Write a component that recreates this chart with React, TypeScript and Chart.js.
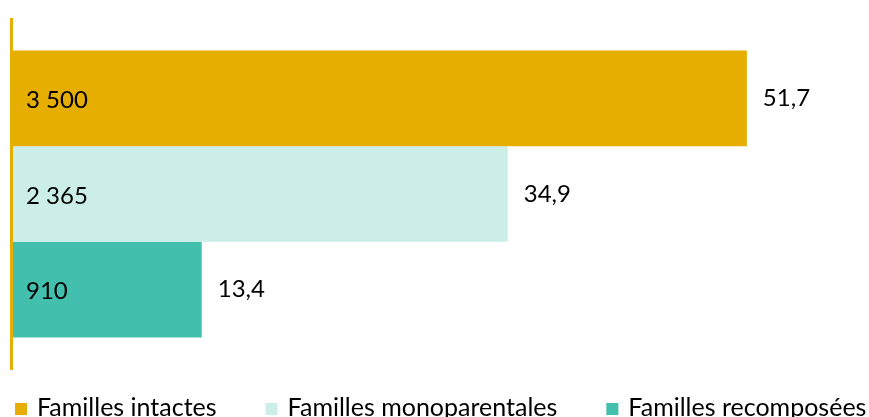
import React, { useEffect, useRef } from "react";
import { Chart, registerables } from "chart.js";

Chart.register(...registerables);

const categories = ["Familles intactes", "Familles monoparentales", "Familles recomposées"];
const percentages = [51.7, 34.9, 13.4];
const counts = [3500, 2365, 910];
const colors = ["#E6AE00", "#CBEEE8", "#43BFAE"];
const axisMax = 60;

const FONT = "Lato, 'Open Sans', sans-serif";
const FONT_SIZE = 24;
const LEGEND_FONT_SIZE = 25;

function fmtCount(n: number): string {
  return String(n).replace(/\B(?=(\d{3})+(?!\d))/g, " ");
}
function fmtPct(v: number): string {
  return v.toFixed(1).replace(".", ",");
}

const labelPlugin = {
  id: "barLabels",
  afterDatasetsDraw(chart: any) {
    const ctx = chart.ctx;
    ctx.save();
    ctx.font = `${FONT_SIZE}px ${FONT}`;
    ctx.fillStyle = "#000";
    ctx.textBaseline = "middle";
    ctx.textAlign = "left";
    chart.data.datasets.forEach((_ds: any, i: number) => {
      const bar = chart.getDatasetMeta(i).data[0];
      const { x, y, base } = bar.getProps(["x", "y", "base"], true);
      ctx.fillText(fmtCount(counts[i]), base + 15, y + 2);
      ctx.fillText(fmtPct(percentages[i]), x + 16, y);
    });
    ctx.restore();
  },
};

const legendPlugin = {
  id: "bottomLegend",
  afterDraw(chart: any) {
    const ctx = chart.ctx;
    const area = chart.chartArea;
    ctx.save();
    ctx.font = `${LEGEND_FONT_SIZE}px ${FONT}`;
    ctx.textBaseline = "alphabetic";
    ctx.textAlign = "left";
    let x = area.left + 4;
    const baseY = area.bottom + 47;
    categories.forEach((c, i) => {
      ctx.fillStyle = colors[i];
      ctx.fillRect(x, baseY - 13, 12, 12);
      ctx.fillStyle = "#000";
      ctx.fillText(c, x + 22, baseY);
      x += 22 + ctx.measureText(c).width + 49;
    });
    ctx.restore();
  },
};

export default function App() {
  const ref = useRef<HTMLCanvasElement | null>(null);
  useEffect(() => {
    if (!ref.current) return;
    const chart = new Chart(ref.current, {
      type: "bar",
      data: {
        labels: [""],
        datasets: categories.map((c, i) => ({
          label: c,
          data: [percentages[i]],
          backgroundColor: colors[i],
          borderWidth: 0,
          categoryPercentage: 0.82,
          barPercentage: 1,
        })),
      },
      options: {
        indexAxis: "y",
        animation: false,
        responsive: true,
        maintainAspectRatio: false,
        layout: { padding: { top: 19, bottom: 61, left: 11, right: 4 } },
        plugins: { legend: { display: false }, tooltip: { enabled: false } },
        scales: {
          x: { display: false, min: 0, max: axisMax },
          y: {
            grid: { display: false, drawTicks: false },
            ticks: { display: false },
            border: { display: true, color: "#E6AE00", width: 3, z: 1 },
          },
        },
      },
      plugins: [labelPlugin, legendPlugin],
    } as any);
    return () => chart.destroy();
  }, []);
  return (
    <div style={{ position: "absolute", left: 0, top: 0, width: 869, height: 430 }}>
      <canvas ref={ref} />
    </div>
  );
}
